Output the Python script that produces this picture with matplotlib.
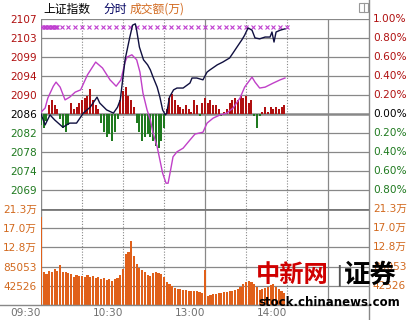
import matplotlib
matplotlib.use("Agg")
import matplotlib.pyplot as plt
from matplotlib.patches import Rectangle

plt.rcParams['font.family'] = ['DejaVu Sans', 'Noto Sans CJK SC']

# prev close of the index
base = 2086.0

# price line (minute from 09:30, index value)
price_min = [0, 3, 6.6, 10, 16, 21, 26, 31, 36, 41, 43, 48, 53, 56, 58, 60, 61.5, 65, 67, 69, 70,
             72, 75, 78, 80, 82, 85, 87, 89, 91, 92, 94, 97, 99.5, 104, 109, 110.5, 114, 118.5,
             121.5, 123.7, 129, 133, 138, 140.5, 143.4, 147, 149, 151.5, 154.4, 156.6, 160, 164,
             167.6, 169, 170.5, 172, 175, 178.5]
price_val = [2086.0, 2083.6, 2085.8, 2084.7, 2083.1, 2084.0, 2084.0, 2086.2, 2087.5, 2089.7, 2088.4,
             2086.9, 2086.2, 2087.5, 2089.1, 2094.1, 2097.9, 2102.9, 2105.5, 2105.8, 2104.4,
             2100.7, 2097.9, 2096.8, 2095.7, 2094.1, 2091.9, 2089.7, 2086.9, 2085.8, 2086.2,
             2089.7, 2091.3, 2091.7, 2091.7, 2092.8, 2093.9, 2093.9, 2093.5, 2095.2, 2095.7,
             2096.8, 2097.4, 2098.3, 2099.4, 2100.7, 2102.3, 2103.3, 2104.9, 2104.4, 2102.7,
             2102.5, 2102.9, 2102.9, 2104.0, 2101.8, 2104.0, 2104.4, 2104.7]

# magenta line
lead_min = [0, 3, 5, 9, 11, 14, 17.6, 21, 25, 29, 34, 40, 45, 50.5, 55, 58.5, 61.5, 63, 66.5, 70,
            72.4, 74.6, 77.6, 80, 82, 85, 87, 89, 91.5, 93, 94.4, 96.6, 99.5, 104, 109, 112.7,
            118.5, 121.5, 126, 131, 136, 140.5, 145.6, 149, 154.4, 156.6, 160, 164, 170, 175, 178.5]
lead_val = [2086.4, 2087.3, 2089.5, 2092.1, 2093.0, 2091.9, 2089.1, 2089.7, 2090.8, 2091.3, 2094.6,
            2097.4, 2096.1, 2093.5, 2092.1, 2093.5, 2097.4, 2098.5, 2099.0, 2097.9, 2095.2,
            2090.6, 2086.9, 2084.7, 2081.8, 2078.8, 2075.9, 2073.0, 2070.8, 2070.8, 2073.0,
            2076.6, 2077.7, 2078.5, 2080.3, 2081.6, 2082.0, 2084.0, 2085.1, 2085.8, 2086.2,
            2087.3, 2089.5, 2091.9, 2094.1, 2093.0, 2091.7, 2091.9, 2092.8, 2093.5, 2093.9]

# red / green strength bars and volume, one bar per 2 minutes
bar_min = list(range(0, 180, 2))
flow = [-2.5, -3, -1.5, 2, 3, 2, 1, -1, -3, -4, -2.5, 2.5, 1, 1.5, 2.5, 3, 3.5, 4, 5.5, 3,
        2, 1, -2, -4, -5, -4.5, -6, -4, -1, 3, 5, 6, 4, 3, 1.5, -2, -4, -6, -5, -4.5,
        -5, -6, -7, -7.5, -6, -3, 1, 3.5, 4.5, 3, 2, 1.5, 1, 2, 1, 0.5, 3, 2, -0.5, 2.5,
        3.5, 2.5, 3, 2, 2, 1, -0.5, 0.5, 1, 2.5, 3, 3.5, 3, 4, 3.5, 4, 2.5, 3, -0.5, -3,
        -0.5, 0.5, 1.5, 0.5, 1.5, 1, 1.5, 1, 1.5, 2]
volume = [195000, 72000, 68000, 75000, 72000, 80000, 76000, 88000, 74000, 72000,
          70000, 68000, 62000, 66000, 64000, 65000, 62000, 66000, 63000, 65000,
          60000, 62000, 58000, 60000, 55000, 58000, 54000, 58000, 60000, 66000,
          80000, 112000, 118000, 142000, 108000, 90000, 82000, 78000, 72000, 66000,
          64000, 70000, 72000, 70000, 68000, 62000, 52000, 46000, 42000, 38000,
          36000, 36000, 34000, 34000, 32000, 32000, 30000, 30000, 28000, 26000,
          78000, 20000, 22000, 24000, 24000, 26000, 26000, 28000, 28000, 30000,
          32000, 34000, 36000, 40000, 46000, 50000, 54000, 52000, 46000, 40000,
          34000, 36000, 38000, 40000, 44000, 46000, 40000, 36000, 32000, 26000]

# x markers in the top row
mark_min = [1, 2, 3, 4, 5, 6, 7, 8, 9, 10, 11, 12, 15, 20, 25, 30, 35, 40, 45, 50, 55, 60, 65,
            70, 75, 80, 85, 90, 95, 100, 105, 110, 115, 120, 125, 130, 135, 140, 145, 150,
            155, 160, 165, 170, 175, 180]

time_ticks = [0, 60, 120, 180]
time_labels = ["09:30", "10:30", "13:00", "14:00"]
pct_steps = [5, 4, 3, 2, 1, 0, -1, -2, -3, -4]
price_labels = ["2107", "2103", "2099", "2094", "2090", "2086", "2082", "2078", "2074", "2069"]
pct_labels = ["1.00%", "0.80%", "0.60%", "0.40%", "0.20%", "0.00%", "0.20%", "0.40%", "0.60%", "0.80%"]
vol_unit = 42526
vol_labels = ["42526", "85053", "12.8万", "17.0万", "21.3万"]

W, H = 411, 320
fig = plt.figure(figsize=(W / 100, H / 100), dpi=100)
fig.patch.set_facecolor('white')

L, R = 41, 369
grid_c = '#888888'
red_c = '#b01010'
green_c = '#1f7a1f'
orange_c = '#d2691e'
fs = 7.6

ax1 = fig.add_axes([L / W, (H - 209) / H, (R - L) / W, 190 / H])
ax2 = fig.add_axes([L / W, (H - 305) / H, (R - L) / W, 96 / H])

for ax in (ax1, ax2):
    ax.set_xlim(0, 240)
    for s in ax.spines.values():
        s.set_visible(False)
    ax.tick_params(length=0)
    ax.set_xticks([])
    for m in [30, 60, 90, 150, 180]:
        ax.axvline(m, color=grid_c, lw=0.8, ls=(0, (1, 1.5)), zorder=0)
    for m in [120, 210]:
        ax.axvline(m, color=grid_c, lw=0.9, zorder=0)
    ax.axvline(0, color=grid_c, lw=1.0, zorder=0)

# price panel
ax1.set_ylim(base * 0.99, base * 1.01)
levels = [base * (1 + 0.002 * k) for k in pct_steps]
for k, lv in zip(pct_steps, levels):
    if k == 0:
        ax1.axhline(lv, color=grid_c, lw=1.8, zorder=1)
    else:
        ax1.axhline(lv, color=grid_c, lw=0.9, zorder=0)
ax1.set_yticks(levels)
ax1.set_yticklabels(price_labels, fontsize=fs)
ax1.tick_params(axis='y', pad=3)
for k, t in zip(pct_steps, ax1.get_yticklabels()):
    t.set_color(red_c if k > 0 else ('black' if k == 0 else green_c))
ytr = ax1.get_yaxis_transform()
for k, lv, lab in zip(pct_steps, levels, pct_labels):
    ax1.text(1.012, lv, lab, transform=ytr, ha='left', va='center', fontsize=fs,
             color=red_c if k > 0 else ('black' if k == 0 else green_c))

fcol = [red_c if v > 0 else green_c for v in flow]
ax1.bar(bar_min, flow, bottom=base, width=1.5, color=fcol, zorder=2)
ax1.plot(lead_min, lead_val, color='#c040c8', lw=1.0, zorder=3)
ax1.plot(price_min, price_val, color='#101040', lw=1.0, zorder=4)
ax1.plot(mark_min, [2105.1] * len(mark_min), ls='none', marker='x', ms=3.2, mew=0.8,
         color='#c040d0', zorder=3)

# volume panel
ax2.set_ylim(0, vol_unit * 5)
vlev = [vol_unit * k for k in range(1, 6)]
for lv in vlev[:-1]:
    ax2.axhline(lv, color=grid_c, lw=0.9, zorder=0)
ax2.axhline(vlev[-1], color='#777777', lw=2.0, zorder=1)
ax2.axhline(0, color=grid_c, lw=1.0, zorder=1)
ax2.set_yticks(vlev)
ax2.set_yticklabels(vol_labels, fontsize=fs, color=orange_c)
ax2.tick_params(axis='y', pad=3)
ytr2 = ax2.get_yaxis_transform()
for lv, lab in zip(vlev, vol_labels):
    ax2.text(1.012, lv, lab, transform=ytr2, ha='left', va='center', fontsize=fs, color=orange_c)
ax2.bar(bar_min, volume, width=1.6, color='#e0601a', zorder=2)

ax2.set_xticks(time_ticks)
ax2.set_xticklabels(time_labels, fontsize=fs, color='#707070')
ax2.tick_params(axis='x', pad=2)
for t in ax2.get_xticklabels():
    t.set_ha('right')

# frame lines
fig.add_artist(plt.Line2D([R / W, R / W], [0, 1], color=grid_c, lw=1.0))
fig.add_artist(plt.Line2D([0, R / W], [(H - 305) / H] * 2, color=grid_c, lw=1.0))
fig.add_artist(Rectangle((359 / W, (H - 12) / H), 9 / W, 9 / H, fill=False, ec='#999999', lw=0.8))
fig.add_artist(plt.Line2D([363.5 / W] * 2, [(H - 12) / H, (H - 3) / H], color='#999999', lw=0.8))

# header
fig.text(43 / W, (H - 9) / H, "上证指数", fontsize=8.5, color='black', va='center',
         family=['Noto Sans CJK SC'])
fig.text(103 / W, (H - 9) / H, "分时", fontsize=8.5, color='#000060', va='center',
         family=['Noto Sans CJK SC'])
fig.text(130 / W, (H - 9) / H, "成交额(万)", fontsize=8.5, color=orange_c, va='center',
         family=['Noto Sans CJK SC'])

# watermark
fig.text(256 / W, (H - 275) / H, "中新网", fontsize=17.5, color='#d00000', va='center',
         fontweight='bold', style='italic', family=['Noto Sans CJK SC'], zorder=10)
fig.text(335 / W, (H - 275) / H, "|", fontsize=16, color='#555555', va='center', zorder=10)
fig.text(344 / W, (H - 275) / H, "证券", fontsize=19, color='black', va='center',
         fontweight='bold', family=['Noto Sans CJK SC'], zorder=10)
fig.text(258 / W, (H - 302) / H, "stock.chinanews.com", fontsize=8.5, color='black',
         va='center', fontweight='bold', zorder=10)

fig.savefig("out.png", dpi=100)
